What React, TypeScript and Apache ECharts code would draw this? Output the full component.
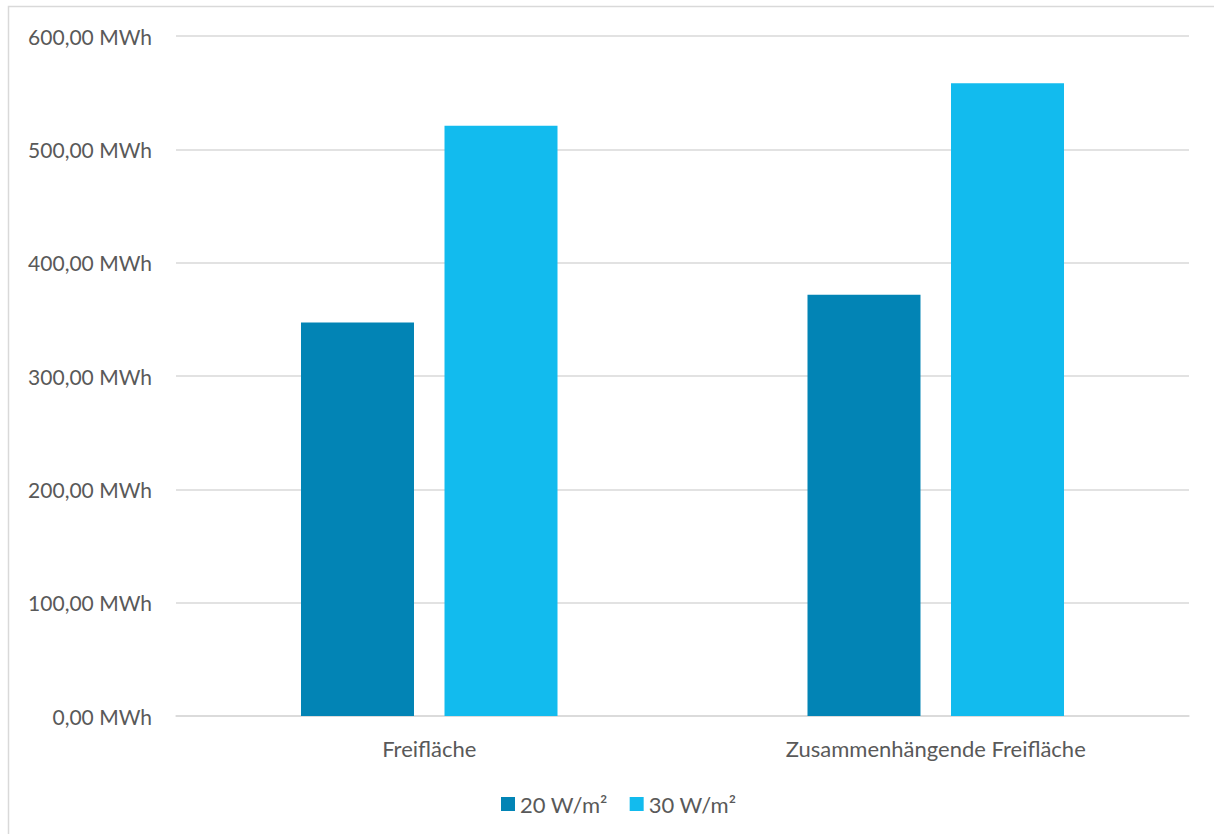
import React, { useEffect, useRef } from "react";
import * as echarts from "echarts";

// Energy yield per area type and installed power density
const categories: string[] = ["Freifläche", "Zusammenhängende Freifläche"];
const seriesNames: string[] = ["20 W/m²", "30 W/m²"];
const values20: number[] = [347.3, 371.7];
const values30: number[] = [520.8, 558.2];

const COLOR_20 = "#0284B5";
const COLOR_30 = "#12BBEE";
const TEXT = "#595959";
const GRID = "#D9D9D9";
const FONT = "Lato, 'Open Sans', sans-serif";

const fmt = (v: number) => v.toFixed(2).replace(".", ",") + " MWh";

export default function App() {
  const ref = useRef<HTMLDivElement>(null);

  useEffect(() => {
    if (!ref.current) return;
    const chart = echarts.init(ref.current, undefined, { renderer: "svg" });
    chart.setOption({
      animation: false,
      backgroundColor: "#FFFFFF",
      textStyle: { fontFamily: FONT, color: TEXT },
      graphic: [
        {
          type: "rect",
          shape: { x: 8.5, y: 6.5, width: 1400, height: 1000 },
          style: { fill: "none", stroke: GRID, lineWidth: 1.5 },
          silent: true,
        },
      ],
      grid: { left: 176, right: 25, top: 36, bottom: 118 },
      legend: {
        data: seriesNames,
        left: 496,
        top: 788,
        icon: "rect",
        itemWidth: 14,
        itemHeight: 14,
        itemGap: 22,
        textStyle: { fontFamily: FONT, fontSize: 22, color: TEXT },
      },
      xAxis: {
        type: "category",
        data: categories,
        axisLine: { lineStyle: { color: GRID, width: 1.5 } },
        axisTick: { show: false },
        axisLabel: { fontFamily: FONT, fontSize: 22, color: TEXT, margin: 21 },
      },
      yAxis: {
        type: "value",
        min: 0,
        max: 600,
        interval: 100,
        axisLine: { show: false },
        axisTick: { show: false },
        splitLine: { lineStyle: { color: GRID, width: 1.5 } },
        axisLabel: {
          fontFamily: FONT,
          fontSize: 21,
          color: TEXT,
          margin: 24,
          formatter: (v: number) => fmt(v),
        },
      },
      series: [
        {
          name: seriesNames[0],
          type: "bar",
          data: values20,
          barWidth: 113,
          barGap: "27%",
          itemStyle: { color: COLOR_20 },
        },
        {
          name: seriesNames[1],
          type: "bar",
          data: values30,
          barWidth: 113,
          barGap: "27%",
          itemStyle: { color: COLOR_30 },
        },
      ],
    });
    return () => chart.dispose();
  }, []);

  return (
    <div
      ref={ref}
      style={{ position: "fixed", left: 0, top: 0, width: 1214, height: 834 }}
    />
  );
}
